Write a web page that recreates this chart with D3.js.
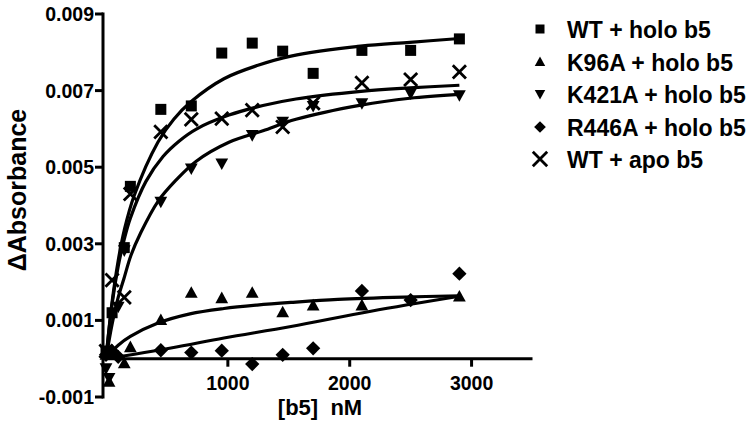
<!DOCTYPE html>
<html><head><meta charset="utf-8">
<script src="https://cdn.jsdelivr.net/npm/d3@7"></script>
<style>body{margin:0;background:#fff}svg{display:block}text{font-family:"Liberation Sans",Arial,sans-serif;font-weight:bold}</style>
</head><body>
<script>
// ---- data ----
const seriesNames = ["WT + holo b5","K96A + holo b5","K421A + holo b5","R446A + holo b5","WT + apo b5"];
const wtHoloX = [0,50,150,200,450,700,950,1200,1450,1700,2100,2500,2900];
const wtHoloY = [0.0002,0.0012,0.0029,0.0045,0.00651,0.0066,0.00798,0.00824,0.00803,0.00745,0.00805,0.00805,0.00835];
const k96X = [0,25,150,200,450,700,950,1200,1450,1700,2100,2900];
const k96Y = [0.0001,-0.0006,-0.00012,0.0003,0.00101,0.00172,0.00158,0.00172,0.00121,0.00139,0.00139,0.00162];
const k421X = [0,25,100,150,450,700,950,1200,1450,1700,2100,2500,2900];
const k421Y = [-0.00025,-0.0005,0.00136,0.00283,0.0041,0.00497,0.0051,0.00584,0.00619,0.0066,0.00667,0.00693,0.00688];
const r446X = [0,50,100,450,700,950,1200,1450,1700,2100,2500,2900];
const r446Y = [0.0001,0.0002,0.00005,0.00022,0.00016,0.00021,-0.00014,0.0001,0.00027,0.00177,0.00153,0.00222];
const wtApoX = [0,50,150,200,450,700,950,1200,1450,1700,2100,2500,2900];
const wtApoY = [0.0002,0.00205,0.0016,0.0043,0.00592,0.00625,0.00627,0.00649,0.00605,0.00667,0.0072,0.00729,0.00749];
// fitted curves
const fitWtHoloX = [0,50,100,150,230,427,558,697,968,1247,1518,2092,2494,2900];
const fitWtHoloY = [0,0.00148,0.00256,0.00336,0.00425,0.00566,0.00626,0.00671,0.00731,0.00766,0.0079,0.00816,0.00826,0.00836];
const fitK96X = [0,41,100,200,427,689,968,1239,1518,1903,2445,2900];
const fitK96Y = [0,0.00016,0.00035,0.00058,0.00093,0.00117,0.00131,0.0014,0.00147,0.00155,0.00161,0.00164];
const fitK421X = [0,50,100,148,205,287,427,574,738,1009,1288,1559,2092,2494,2900];
const fitK421Y = [0,0.0009,0.0016,0.0021,0.0027,0.0033,0.00411,0.00466,0.00515,0.00565,0.00595,0.00625,0.00662,0.0068,0.0069];
const fitR446X = [0,533,968,1518,2174,2900];
const fitR446Y = [0,0.00028,0.00054,0.00084,0.00124,0.00163];
const fitWtApoX = [0,50,100,150,200,328,468,599,738,1009,1288,1559,2092,2494,2900];
const fitWtApoY = [0,0.00143,0.00241,0.00312,0.00367,0.00463,0.00528,0.00568,0.00599,0.00636,0.00661,0.00678,0.00698,0.00707,0.00714];
const yTicks = [-0.001,0.001,0.003,0.005,0.007,0.009];
const xTicks = [1000,2000,3000];

const W=754,H=425;
const svg=d3.select("body").append("svg").attr("width",W).attr("height",H);
const x=d3.scaleLinear().domain([0,3500]).range([106,532.5]);
const y=d3.scaleLinear().domain([-0.001,0.009]).range([397,14]);
const axX=103;

// axes
const g=svg.append("g");
g.append("line").attr("x1",axX).attr("x2",axX).attr("y1",y(-0.001)+1.5).attr("y2",y(0.009)-1.5).attr("stroke","#000").attr("stroke-width",3);
g.append("line").attr("x1",axX).attr("x2",x(3500)).attr("y1",y(0)).attr("y2",y(0)).attr("stroke","#000").attr("stroke-width",3);
const fmt=t=>d3.format(".3f")(t).replace("\u2212","-");
yTicks.forEach(t=>{
  g.append("line").attr("x1",axX-8).attr("x2",axX).attr("y1",y(t)).attr("y2",y(t)).attr("stroke","#000").attr("stroke-width",3);
  g.append("text").attr("x",axX-9).attr("y",y(t)+7).attr("text-anchor","end").attr("font-size",19.5).text(fmt(t));
});
xTicks.forEach(t=>{
  g.append("line").attr("x1",x(t)).attr("x2",x(t)).attr("y1",y(0)).attr("y2",y(0)+8).attr("stroke","#000").attr("stroke-width",3);
  g.append("text").attr("x",x(t)).attr("y",390).attr("text-anchor","middle").attr("font-size",19.5).text(t);
});
g.append("text").attr("x",320).attr("y",415).attr("text-anchor","middle").attr("font-size",22).attr("xml:space","preserve").text("[b5]  nM");
g.append("text").attr("transform","translate(26,190) rotate(-90)").attr("text-anchor","middle").attr("font-size",25).text("\u0394Absorbance");

// curves
const line=d3.line().x(d=>x(d[0])).y(d=>y(d[1])).curve(d3.curveCatmullRom.alpha(0.5));
const fits=[[fitWtHoloX,fitWtHoloY],[fitK96X,fitK96Y],[fitK421X,fitK421Y],[fitR446X,fitR446Y],[fitWtApoX,fitWtApoY]];
fits.forEach(([fx,fy])=>{
  svg.append("path").attr("d",line(fx.map((v,i)=>[v,fy[i]]))).attr("fill","none").attr("stroke","#000").attr("stroke-width",3.2);
});

// markers
function marker(sel,type,cx,cy,s){
  if(type===0) sel.append("rect").attr("x",cx-s/2).attr("y",cy-s/2).attr("width",s).attr("height",s).attr("fill","#000");
  else if(type===1) sel.append("path").attr("d",`M${cx},${cy-s*0.6}L${cx+s*0.58},${cy+s*0.45}L${cx-s*0.58},${cy+s*0.45}Z`).attr("fill","#000");
  else if(type===2) sel.append("path").attr("d",`M${cx},${cy+s*0.6}L${cx+s*0.58},${cy-s*0.45}L${cx-s*0.58},${cy-s*0.45}Z`).attr("fill","#000");
  else if(type===3) sel.append("path").attr("d",`M${cx},${cy-s*0.65}L${cx+s*0.65},${cy}L${cx},${cy+s*0.65}L${cx-s*0.65},${cy}Z`).attr("fill","#000");
  else { const r=s*0.6; sel.append("path").attr("d",`M${cx-r},${cy-r}L${cx+r},${cy+r}M${cx-r},${cy+r}L${cx+r},${cy-r}`).attr("stroke","#000").attr("stroke-width",2.8).attr("fill","none"); }
}
const pts=[[wtHoloX,wtHoloY],[k96X,k96Y],[k421X,k421Y],[r446X,r446Y],[wtApoX,wtApoY]];
pts.forEach(([px,py],k)=>{
  const gg=svg.append("g");
  px.forEach((v,i)=>marker(gg,k,x(v),y(py[i]),11));
});

// legend
const legY=[29,62,94,127,159];
seriesNames.forEach((n,k)=>{
  marker(svg,k,540,legY[k],k===4?12:9);
  svg.append("text").attr("x",567).attr("y",legY[k]+8.5).attr("font-size",23).text(n);
});
</script>
</body></html>
